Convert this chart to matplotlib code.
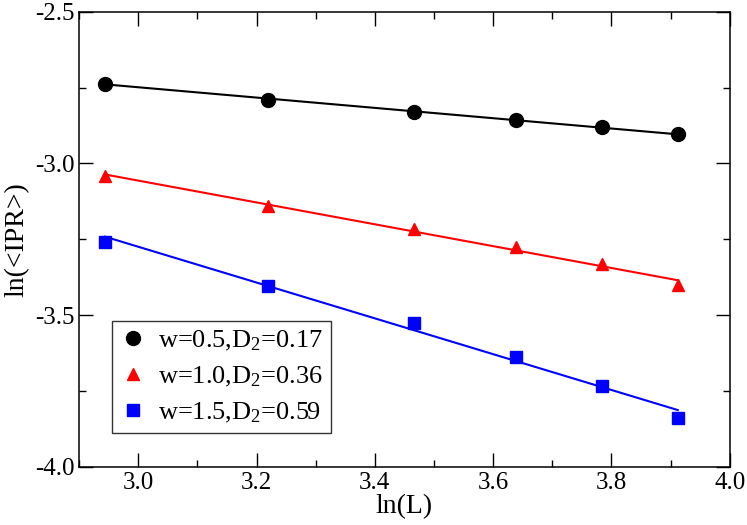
import numpy as np
import matplotlib.pyplot as plt
from matplotlib.ticker import MultipleLocator

plt.rcParams['font.family'] = ['Liberation Serif', 'DejaVu Serif']
plt.rcParams['mathtext.fontset'] = 'custom'
plt.rcParams['mathtext.rm'] = 'Liberation Serif'
plt.rcParams['mathtext.it'] = 'Liberation Serif:italic'

# ln(L), L = 19, 25, 32, 38, 44, 50
lnL = [2.944, 3.219, 3.466, 3.638, 3.784, 3.912]

ipr_w05 = [-2.738, -2.790, -2.829, -2.856, -2.880, -2.904]
ipr_w10 = [-3.040, -3.141, -3.216, -3.275, -3.331, -3.402]
ipr_w15 = [-3.258, -3.405, -3.525, -3.637, -3.732, -3.837]

w_vals = ["0.5", "1.0", "1.5"]
d2_vals = [0.17, 0.36, 0.59]
colors = ["black", "red", "blue"]
markers = ["o", "^", "s"]
msizes = [10, 9, 8]

fig = plt.figure(figsize=(7.47, 5.25), dpi=100)
ax = fig.add_axes([0.1058, 0.1105, 0.8712, 0.8672])

x = np.array(lnL)
for y, w, d2, c, m, ms in zip([ipr_w05, ipr_w10, ipr_w15], w_vals, d2_vals,
                              colors, markers, msizes):
    y = np.array(y)
    # straight fit with slope -D2
    b = y.mean() + d2 * x.mean()
    ax.plot(x, b - d2 * x, color=c, lw=1.5)
    ax.plot(x, y, ls="none", marker=m, ms=ms, color=c,
            label="w=%s,D$_{\\mathregular{2}}$=%.2f" % (w, d2))

ax.set_xlim(2.9, 4.0)
ax.set_ylim(-4.0, -2.5)
ax.xaxis.set_major_locator(MultipleLocator(0.2))
ax.xaxis.set_minor_locator(MultipleLocator(0.1))
ax.yaxis.set_major_locator(MultipleLocator(0.5))
ax.yaxis.set_minor_locator(MultipleLocator(0.25))
ax.xaxis.set_major_formatter(plt.FormatStrFormatter("%.1f"))
ax.yaxis.set_major_formatter(plt.FormatStrFormatter("%.1f"))
ax.tick_params(which="both", direction="in", top=True, right=True,
               labelsize=18, width=1.0)
ax.tick_params(which="major", length=10)
ax.tick_params(which="minor", length=5)
for s in ax.spines.values():
    s.set_linewidth(1.1)

ax.set_xlabel("ln(L)", fontsize=20, labelpad=0)
ax.set_ylabel("ln(<IPR>)", fontsize=20, labelpad=4)

leg = ax.legend(loc="lower left", bbox_to_anchor=(0.051, 0.075), fontsize=19,
                frameon=True, fancybox=False, edgecolor="black",
                borderpad=0.3, handletextpad=0.45, handlelength=1.0,
                labelspacing=0.45, borderaxespad=0)
leg.get_frame().set_linewidth(1.0)

fig.savefig("out.png", dpi=100)
